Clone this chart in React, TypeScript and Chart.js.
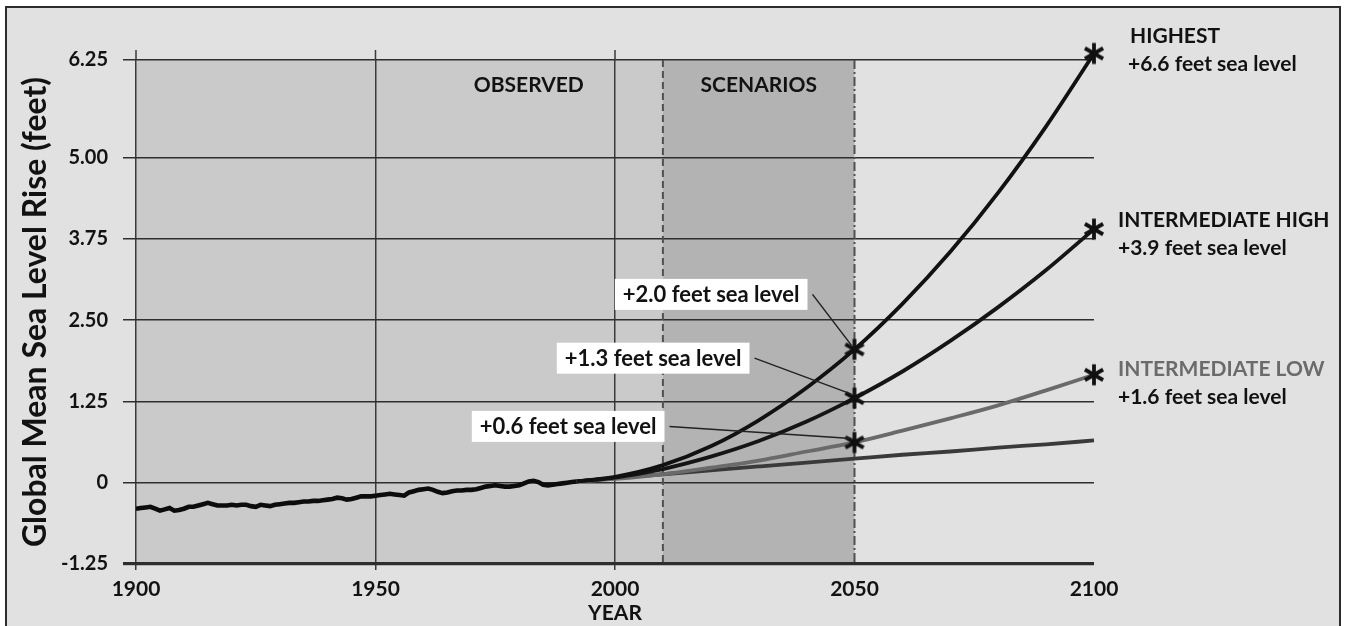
import React, { useEffect, useRef } from 'react';
import { Chart, registerables } from 'chart.js';

Chart.register(...registerables);

// ---------- DATA ----------
const observedStartYear = 1900;
// annual observed global mean sea level (feet), 1900..1992
const observedValues = [
  -0.40, -0.39, -0.38, -0.37, -0.40, -0.43, -0.41, -0.39, -0.43, -0.42,
  -0.40, -0.37, -0.37, -0.35, -0.33, -0.31, -0.33, -0.35, -0.35, -0.35,
  -0.34, -0.35, -0.34, -0.34, -0.36, -0.37, -0.34, -0.35, -0.36, -0.34,
  -0.33, -0.32, -0.31, -0.31, -0.30, -0.29, -0.29, -0.28, -0.28, -0.27,
  -0.26, -0.25, -0.23, -0.24, -0.26, -0.25, -0.23, -0.21, -0.21, -0.21,
  -0.20, -0.19, -0.18, -0.17, -0.18, -0.19, -0.20, -0.15, -0.13, -0.11,
  -0.10, -0.09, -0.11, -0.14, -0.16, -0.15, -0.13, -0.12, -0.12, -0.11,
  -0.11, -0.10, -0.08, -0.06, -0.05, -0.04, -0.05, -0.06, -0.06, -0.05,
  -0.04, -0.01, 0.02, 0.03, 0.01, -0.03, -0.04, -0.03, -0.02, -0.01,
  0.00, 0.01, 0.02,
];

const scenarioYears = [1992, 2000, 2010, 2020, 2030, 2040, 2050, 2060, 2070, 2080, 2090, 2100];
const highestValues = [0.02, 0.09, 0.27, 0.56, 0.96, 1.46, 2.05, 2.75, 3.55, 4.46, 5.48, 6.60];
const intHighValues = [0.02, 0.08, 0.21, 0.40, 0.64, 0.94, 1.30, 1.71, 2.18, 2.70, 3.27, 3.90];
const intLowValues = [0.02, 0.06, 0.13, 0.23, 0.34, 0.48, 0.62, 0.80, 0.99, 1.19, 1.42, 1.66];
const lowestValues = [0.02, 0.07, 0.13, 0.19, 0.25, 0.31, 0.37, 0.43, 0.48, 0.54, 0.59, 0.65];

const yTickValues = [-1.25, 0, 1.25, 2.5, 3.75, 5, 6.5];
const yTickLabels = ['-1.25', '0', '1.25', '2.50', '3.75', '5.00', '6.25'];
const xTickValues = [1900, 1950, 2000, 2050, 2100];
const xGridYears = [1900, 1950, 2000];

const periodBounds = [1900, 2010, 2050];
const periodNames = ['OBSERVED', 'SCENARIOS'];
const periodLabelYears = [1982, 2030];

const midYear = 2050;
const endYear = 2100;
const midLabels = ['+2.0 feet sea level', '+1.3 feet sea level', '+0.6 feet sea level'];
const endTitles = ['HIGHEST', 'INTERMEDIATE HIGH', 'INTERMEDIATE LOW'];
const endSubtitles = ['+6.6 feet sea level', '+3.9 feet sea level', '+1.6 feet sea level'];

// ---------- STYLE ----------
const FONT = 'Lato, "Open Sans", sans-serif';
const INK = '#121212';

function makeAsterisk(color: string) {
  const c = document.createElement('canvas');
  c.width = 26;
  c.height = 26;
  const g = c.getContext('2d')!;
  g.strokeStyle = color;
  g.lineWidth = 3.8;
  g.translate(13, 13);
  for (const a of [90, 30, -30]) {
    const r = (a * Math.PI) / 180;
    g.beginPath();
    g.moveTo(-10.5 * Math.cos(r), -10.5 * Math.sin(r));
    g.lineTo(10.5 * Math.cos(r), 10.5 * Math.sin(r));
    g.stroke();
  }
  return c;
}

const toXY = (years: number[], vals: number[]) => vals.map((v, i) => ({ x: years[i], y: v }));

export default function App() {
  const ref = useRef<HTMLCanvasElement | null>(null);

  useEffect(() => {
    const canvas = ref.current;
    if (!canvas) return;

    const curves = [highestValues, intHighValues, intLowValues];
    const iMid = scenarioYears.indexOf(midYear);
    const iEnd = scenarioYears.indexOf(endYear);
    const markerData = [
      ...curves.map((c) => ({ x: midYear, y: c[iMid] })),
      ...curves.map((c) => ({ x: endYear, y: c[iEnd] })),
    ];

    const bgPlugin = {
      id: 'bgPlugin',
      beforeDraw(chart: any) {
        const { ctx, width, height, chartArea, scales } = chart;
        const xs = scales.x;
        ctx.save();
        ctx.fillStyle = '#ffffff';
        ctx.fillRect(0, 0, width, height);
        ctx.fillStyle = '#e1e1e1';
        ctx.fillRect(6, 7, width - 12, height);
        ctx.strokeStyle = '#2c2c2c';
        ctx.lineWidth = 2;
        ctx.strokeRect(6, 7, width - 12, height + 20);
        const fills = ['#cacaca', '#b3b3b3'];
        for (let i = 0; i < periodNames.length; i++) {
          const a = xs.getPixelForValue(periodBounds[i]);
          const b = xs.getPixelForValue(periodBounds[i + 1]);
          ctx.fillStyle = fills[i];
          ctx.fillRect(a, chartArea.top, b - a, chartArea.bottom - chartArea.top);
        }
        ctx.restore();
      },
      beforeDatasetsDraw(chart: any) {
        const { ctx, chartArea, scales } = chart;
        const xs = scales.x;
        ctx.save();
        // grid lines poke slightly above the plot top
        ctx.strokeStyle = '#3a3a3a';
        ctx.lineWidth = 1.5;
        xGridYears.forEach((yr) => {
          const px = xs.getPixelForValue(yr);
          ctx.beginPath();
          ctx.moveTo(px, chartArea.top - 10);
          ctx.lineTo(px, chartArea.top);
          ctx.stroke();
        });
        ctx.strokeStyle = '#505050';
        ctx.lineWidth = 2;
        const dashes = [[7, 4], [9, 3, 2, 3]];
        for (let i = 1; i < periodBounds.length; i++) {
          const px = xs.getPixelForValue(periodBounds[i]);
          ctx.setLineDash(dashes[i - 1]);
          ctx.beginPath();
          ctx.moveTo(px, chartArea.top);
          ctx.lineTo(px, chartArea.bottom);
          ctx.stroke();
        }
        ctx.setLineDash([]);
        ctx.fillStyle = INK;
        ctx.font = `bold 21px ${FONT}`;
        ctx.textAlign = 'center';
        ctx.textBaseline = 'middle';
        periodNames.forEach((n, i) => {
          ctx.fillText(n, xs.getPixelForValue(periodLabelYears[i]), chartArea.top + 25);
        });
        ctx.restore();
      },
      afterDatasetsDraw(chart: any) {
        const { ctx, scales } = chart;
        const xs = scales.x;
        const ys = scales.y;
        ctx.save();
        ctx.textBaseline = 'middle';
        ctx.textAlign = 'left';
        // mid-century call-out boxes with leader lines
        ctx.font = `bold 22px ${FONT}`;
        const boxRightGap = [47, 105, 190];
        const boxDy = [-55, -40, -16];
        curves.forEach((c, i) => {
          const px = xs.getPixelForValue(midYear);
          const py = ys.getPixelForValue(c[iMid]);
          const w = ctx.measureText(midLabels[i]).width + 16;
          const h = 31;
          const right = px - boxRightGap[i];
          const cy = py + boxDy[i];
          ctx.fillStyle = '#ffffff';
          ctx.fillRect(right - w, cy - h / 2, w, h);
          ctx.fillStyle = INK;
          ctx.fillText(midLabels[i], right - w + 8, cy + 1);
          ctx.strokeStyle = '#222';
          ctx.lineWidth = 1.5;
          ctx.beginPath();
          ctx.moveTo(right + 5, cy);
          ctx.lineTo(px - 3, py - 4);
          ctx.stroke();
        });
        // end-of-century labels
        ctx.font = `bold 21px ${FONT}`;
        const dx = [36, 24, 24];
        const dy = [-17, -9, -6];
        const titleColors = [INK, INK, '#6b6b6b'];
        curves.forEach((c, i) => {
          const px = xs.getPixelForValue(endYear);
          const py = ys.getPixelForValue(c[iEnd]);
          ctx.fillStyle = titleColors[i];
          ctx.fillText(endTitles[i], px + dx[i], py + dy[i]);
          ctx.fillStyle = INK;
          ctx.fillText(endSubtitles[i], px + dx[i] - (i === 0 ? 2 : 0), py + dy[i] + 28);
        });
        ctx.restore();
      },
    };

    const lineDs = (label: string, vals: number[], color: string, width: number) => ({
      label,
      data: toXY(scenarioYears, vals),
      borderColor: color,
      borderWidth: width,
      pointRadius: 0,
      cubicInterpolationMode: 'monotone' as const,
      clip: false as any,
    });

    const chart = new Chart(canvas, {
      type: 'line',
      data: {
        datasets: [
          {
            label: 'markers',
            data: markerData,
            showLine: false,
            pointStyle: makeAsterisk('#111111') as any,
            pointRadius: 12,
            clip: false as any,
          } as any,
          lineDs('Highest', highestValues, '#111111', 3.8),
          lineDs('Intermediate High', intHighValues, '#151515', 3.8),
          lineDs('Intermediate Low', intLowValues, '#6a6a6a', 3.8),
          lineDs('Lowest', lowestValues, '#3a3a3a', 3.8),
          {
            label: 'Observed',
            data: observedValues.map((v, i) => ({ x: observedStartYear + i, y: v })),
            borderColor: '#0c0c0c',
            borderWidth: 4.6,
            pointRadius: 0,
            tension: 0,
          },
        ],
      },
      options: {
        responsive: false,
        animation: false,
        devicePixelRatio: 1,
        layout: { padding: { left: 0, top: 60, right: 252, bottom: 0 } },
        plugins: { legend: { display: false }, tooltip: { enabled: false } },
        scales: {
          x: {
            type: 'linear',
            min: 1900,
            max: 2100,
            afterFit: (s: any) => { s.height = 62; },
            afterBuildTicks: (s: any) => { s.ticks = xTickValues.map((v) => ({ value: v })); },
            ticks: {
              color: INK,
              font: { family: FONT, size: 21, weight: 'bold' },
              padding: 7,
              maxRotation: 0,
              callback: (v: any) => String(v),
            },
            grid: {
              color: (c: any) => (xGridYears.includes(c.tick?.value) ? '#3a3a3a' : 'rgba(0,0,0,0)'),
              lineWidth: 1.5,
              tickLength: 6,
            },
            border: { display: false },
            title: {
              display: true,
              text: 'YEAR',
              color: INK,
              font: { family: FONT, size: 21, weight: 'bold' },
              padding: { top: 0, bottom: 0 },
            },
          },
          y: {
            type: 'linear',
            min: -1.25,
            max: 6.5,
            afterFit: (s: any) => { s.width = 136; },
            afterBuildTicks: (s: any) => { s.ticks = yTickValues.map((v) => ({ value: v })); },
            ticks: {
              color: INK,
              font: { family: FONT, size: 20, weight: 'bold' },
              padding: 15,
              callback: (v: any) => {
                const i = yTickValues.indexOf(Number(v));
                return i >= 0 ? yTickLabels[i] : '';
              },
            },
            grid: {
              color: '#2e2e2e',
              lineWidth: (c: any) => (c.tick?.value === yTickValues[0] ? 3.2 : 1.5),
              tickLength: 13,
            },
            border: { display: false },
            title: {
              display: true,
              text: 'Global Mean Sea Level Rise (feet)',
              color: INK,
              font: { family: FONT, size: 32, weight: 'bold' },
              padding: { top: 16, bottom: 0 },
            },
          },
        },
      },
      plugins: [bgPlugin],
    } as any);

    return () => chart.destroy();
  }, []);

  return (
    <div style={{ position: 'absolute', left: 0, top: 0, width: 1346, height: 626 }}>
      <canvas ref={ref} width={1346} height={626} style={{ display: 'block', width: 1346, height: 626 }} />
    </div>
  );
}
